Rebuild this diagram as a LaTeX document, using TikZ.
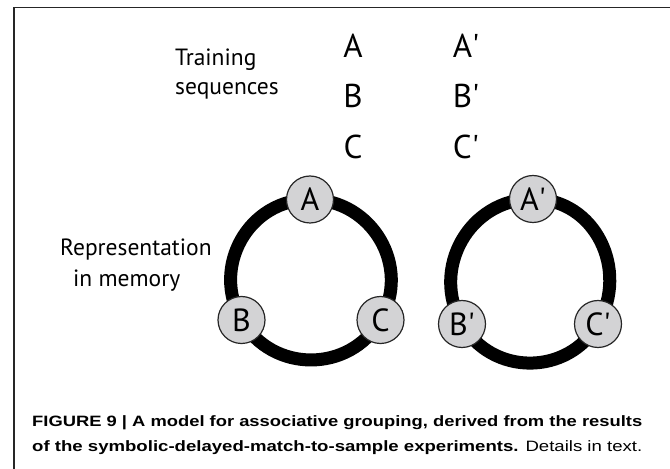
\documentclass[tikz,border=0pt]{standalone}
\usepackage{fontspec}
\setmainfont{PT Sans}
\newfontfamily\capfont{Liberation Sans}
\usepackage{graphicx}
\usetikzlibrary{positioning, backgrounds}
\definecolor{itemgray}{RGB}{211,211,213}
\newcommand{\pr}{\textquotesingle} % straight prime
\tikzset{
x=1pt, y=1pt, % one unit is one pixel of the layout
node distance=50.5pt, % spacing of the training letters
item/.style={circle, draw=black!85, line width=1.2pt, fill=itemgray, minimum size=47pt, inner sep=0pt, font=\fontsize{32}{32}\selectfont}, % a stored item
seqletter/.style={inner sep=0pt, font=\fontsize{33}{33}\selectfont}, % a letter of a training sequence
heading/.style={anchor=base west, inner sep=0pt, font=\fontsize{23.5}{28}\selectfont}, % the row titles
ring/.style={line width=13pt, black, looseness=1.135}, % the link that closes the group
capline/.style={anchor=base west, inner sep=0pt, font=\capfont\fontsize{15}{18}\selectfont}, % one line of the caption
}

\begin{document}
\begin{tikzpicture}
      \useasboundingbox (0,0) rectangle (670,469);
      \draw[black!85, line width=1.4pt] (14,0) -- (14,461.5) -- (670,461.5);
      % row titles
      \node[heading] (train) at (175,403) {Training};
      \node[heading] (seq) at (175,374) {sequences};
      \node[heading] (repr) at (60,213) {Representation};
      \node[heading] (mem) at (73,182) {in memory};
      % training sequences
      \node[seqletter] (sA) at (353,423.5) {A};
      \node[seqletter, below of=sA] (sB) {B};
      \node[seqletter, below of=sB] (sC) {C};
      \node[seqletter] (tA) at (466,423.5) {A\pr};
      \node[seqletter, below of=tA] (tB) {B\pr};
      \node[seqletter, below of=tB] (tC) {C\pr};
      % representation in memory
      \node[item] (a) at (310,269.5) {A};
      \node[item] (b) at (241.5,149) {B};
      \node[item] (c) at (380.5,149) {C};
      \node[item] (a2) at (533,270) {A\pr};
      \node[item] (b2) at (462,145) {B\pr};
      \node[item] (c2) at (598,145) {C\pr};
      \begin{scope}[on background layer]
      \draw[ring] (a.center) to[out=0, in=60] (c.center)
      to[out=-120, in=-60] (b.center)
      to[out=120, in=180] (a.center);
      \draw[ring] (a2.center) to[out=0, in=60] (c2.center)
      to[out=-120, in=-60] (b2.center)
      to[out=120, in=180] (a2.center);
      \end{scope}
      % caption
      \node[capline] (cap1) at (32,42) {\resizebox{610pt}{\height}{\bfseries FIGURE 9 | A model for associative grouping, derived from the results}};
      \node[capline] (cap2) at (32,17) {\resizebox{610pt}{\height}{{\bfseries of the symbolic-delayed-match-to-sample experiments.} Details in text.}};
    \end{tikzpicture}
\end{document}
